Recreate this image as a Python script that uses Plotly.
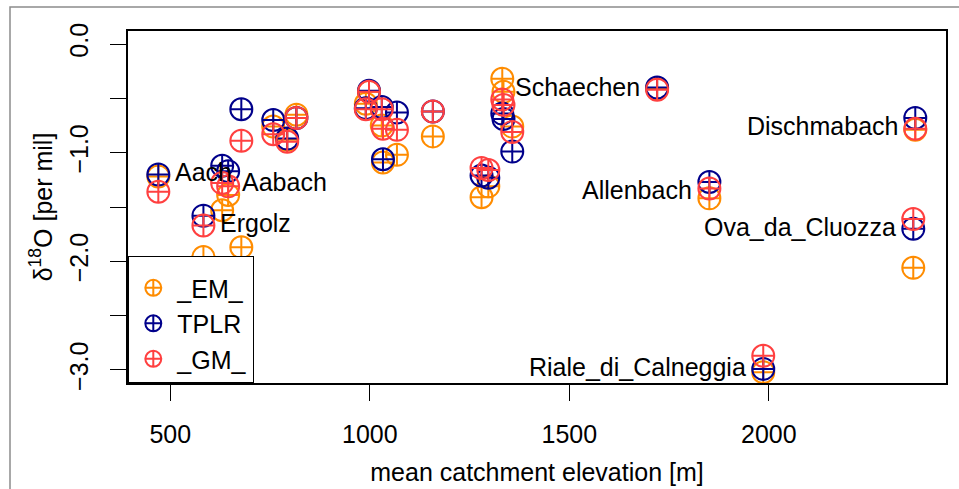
import plotly.graph_objects as go

# Mean catchment elevation [m] of each sampled catchment
elevation = [470, 583, 630, 645, 678, 758, 793, 816, 990, 998, 1030, 1033,
             1068, 1158, 1280, 1297, 1332, 1335, 1357, 1720, 1851, 1986,
             2362, 2367]

# delta-18O [per mil] per catchment, three estimates
d18o_em = [-1.22, -1.96, -1.53, -1.39, -1.87, -0.76, -0.88, -0.65, -0.55,
           -0.44, -0.75, -1.09, -1.02, -0.85, -1.41, -1.31, -0.32, -0.44,
           -0.76, -0.41, -1.42, -3.02, -2.06, -0.79]
d18o_tplr = [-1.20, -1.58, -1.12, -1.17, -0.60, -0.70, -0.87, -0.68, -0.59,
             -0.43, -0.58, -1.06, -0.63, -0.62, -1.21, -1.23, -0.64, -0.69,
             -0.99, -0.40, -1.27, -2.99, -1.70, -0.68]
d18o_gm = [-1.36, -1.67, -1.28, -1.31, -0.89, -0.83, -0.90, -0.68, -0.60,
           -0.44, -0.60, -0.78, -0.79, -0.62, -1.14, -1.16, -0.51, -0.56,
           -0.81, -0.42, -1.33, -2.87, -1.61, -0.78]

series_names = ["_EM_", "TPLR", "_GM_"]

# Named catchments
label_names = ["Aach", "Aabach", "Ergolz", "Schaechen", "Dischmabach",
               "Allenbach", "Ova_da_Cluozza", "Riale_di_Calneggia"]
label_x = [470, 638, 583, 1720, 2367, 1851, 2362, 1986]
label_y = [-1.18, -1.27, -1.65, -0.40, -0.755, -1.345, -1.68, -2.97]
label_side = ["right", "right", "right", "left", "left", "left", "left", "left"]

# axis ticks
y_ticks = [0.0, -1.0, -2.0, -3.0]
y_ticktext = ["0.0", "\u22121.0", "\u22122.0", "\u22123.0"]
x_ticks = [500, 1000, 1500, 2000]

FONT = "Liberation Sans, Arial, Helvetica, sans-serif"
colors = ["#FF8C00", "#00008B", "#FF4040"]

fig = go.Figure()
for name, vals, col in zip(series_names, [d18o_em, d18o_tplr, d18o_gm], colors):
    fig.add_trace(go.Scatter(
        x=elevation, y=vals, mode="markers", name=name,
        marker=dict(symbol="circle-cross-open", size=22, color=col,
                    line=dict(width=2, color=col)),
    ))

for txt, lx, ly, side in zip(label_names, label_x, label_y, label_side):
    fig.add_annotation(
        x=lx, y=ly, xref="x", yref="y", text=txt, showarrow=False,
        xanchor="left" if side == "right" else "right", yanchor="middle",
        xshift=16 if side == "right" else -16, borderpad=0,
        font=dict(family=FONT, size=25, color="black"),
    )

# outer frame of the figure
fig.add_shape(type="rect", xref="paper", yref="paper",
              x0=(10 - 128) / 818, x1=(964 - 128) / 818,
              y0=(383 - 495) / 352, y1=(383 - 7) / 352,
              line=dict(color="#8c8c8c", width=1.5), layer="below")

fig.update_layout(
    width=959, height=489,
    margin=dict(l=128, r=13, t=31, b=106),
    paper_bgcolor="white", plot_bgcolor="white",
    font=dict(family=FONT, size=25, color="black"),
    showlegend=True,
    legend=dict(x=0, y=0, xanchor="left", yanchor="bottom",
                bordercolor="black", borderwidth=1.3, bgcolor="white",
                font=dict(family=FONT, size=25), tracegroupgap=0,
                itemsizing="trace", itemwidth=38,
                title=dict(text=" ", font=dict(size=6))),
    xaxis=dict(range=[394, 2444], tickmode="array", tickvals=x_ticks,
               ticks="outside", ticklen=16, tickwidth=1.3, tickcolor="black",
               showline=True, mirror=True, linecolor="black", linewidth=1.5,
               showgrid=False, zeroline=False, ticklabelstandoff=12,
               tickfont=dict(size=25), automargin=False,
               title=dict(text="mean catchment elevation [m]",
                          font=dict(size=25), standoff=17)),
    yaxis=dict(range=[-3.12, 0.12], tickmode="array", tickvals=y_ticks,
               ticktext=y_ticktext, tickangle=-90,
               ticks="outside", ticklen=16, tickwidth=1.3, tickcolor="black",
               minor=dict(dtick=0.5, tick0=0, ticks="outside", ticklen=16,
                          tickwidth=1.3, tickcolor="black", showgrid=False),
               showline=True, mirror=True, linecolor="black", linewidth=1.5,
               showgrid=False, zeroline=False, ticklabelstandoff=12,
               tickfont=dict(size=25), automargin=False,
               title=dict(text="\u03b4<sup>18</sup>O [per mil]",
                          font=dict(size=25), standoff=6)),
)

fig.write_html("out.html")
